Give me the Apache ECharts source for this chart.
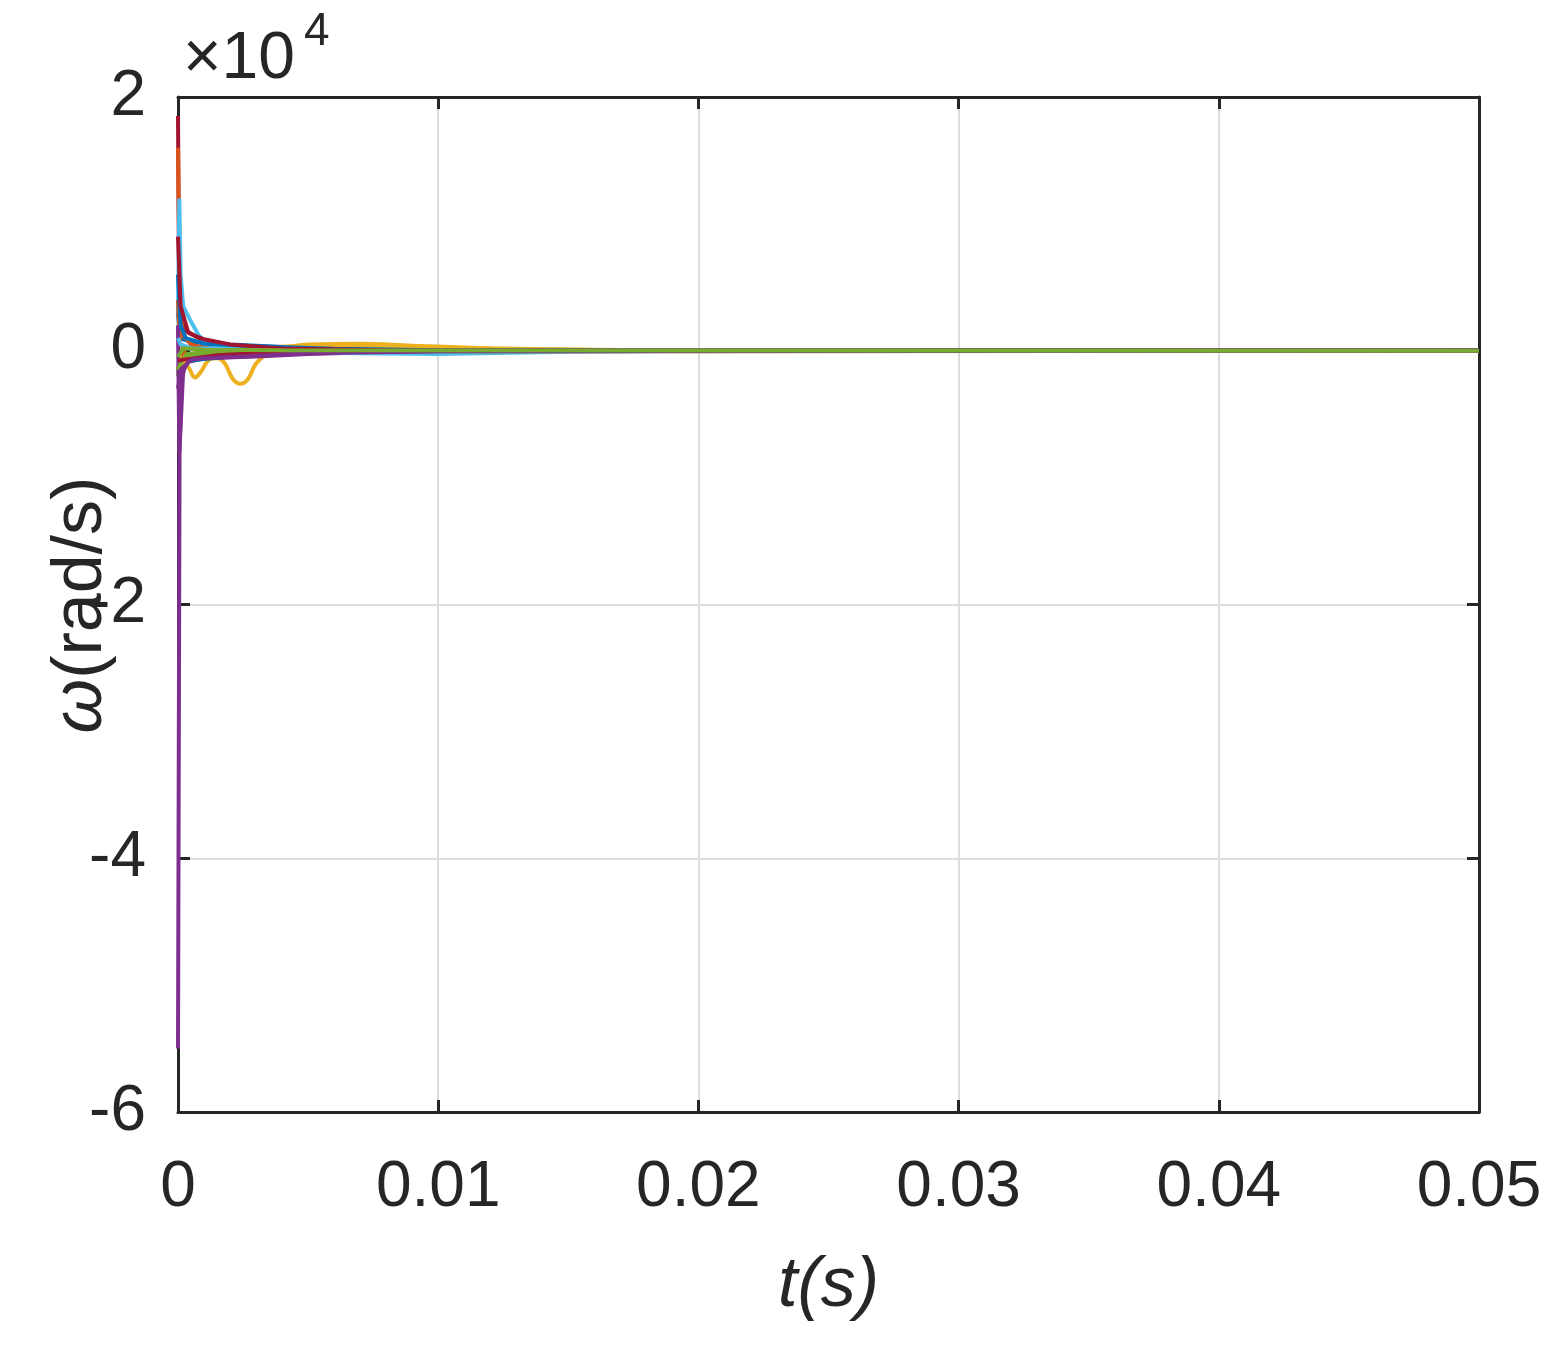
<!DOCTYPE html>
<html>
<head>
<meta charset="utf-8">
<script src="https://cdn.jsdelivr.net/npm/echarts@6/dist/echarts.min.js"></script>
<style>html,body{margin:0;padding:0;background:#fff}#c{width:1558px;height:1351px}</style>
</head>
<body>
<div id="c"></div>
<script>
// x tick values (s) and y tick values (rad/s)
const xTicks = [0, 0.01, 0.02, 0.03, 0.04, 0.05];
const yTicks = [-60000, -40000, -20000, 0, 20000];

// each series: [t (s), omega (rad/s)]
const sBlue1 = [[0,3000],[0.00005,1500],[0.0002,900],[0.0005,700],[0.001,650],[0.002,500],[0.004,300],[0.007,120],[0.012,30],[0.02,0],[0.05,0]];
const sOrange1 = [[0,16000],[0.00004,9000],[0.0001,3000],[0.0002,1200],[0.0005,500],[0.001,250],[0.003,100],[0.006,40],[0.01,0],[0.05,0]];
const sYellow1 = [[0,-1200],[0.0001,-2000],[0.0002,-1000],[0.0004,-1300],[0.00065,-2100],[0.0009,-1600],[0.0012,-700],[0.0015,-600],[0.0018,-1000],[0.0021,-2200],[0.0024,-2600],[0.0027,-2200],[0.003,-1000],[0.0034,-300],[0.004,200],[0.005,500],[0.007,550],[0.009,400],[0.012,200],[0.016,50],[0.02,0],[0.05,0]];
const sPurple1 = [[0,-55000],[0.00006,-8000],[0.00012,-2500],[0.0003,-900],[0.001,-600],[0.003,-450],[0.005,-250],[0.008,-80],[0.012,0],[0.05,0]];
const sGreen1 = [[0,-2000],[0.0001,500],[0.0003,-300],[0.001,-100],[0.003,0],[0.05,0]];
const sCyan1 = [[0,3000],[0.00005,12000],[0.0001,6000],[0.0002,3500],[0.0005,2300],[0.0008,1200],[0.0012,500],[0.002,200],[0.005,-150],[0.01,-250],[0.015,-80],[0.02,0],[0.05,0]];
const sRed1 = [[0,18500],[0.00004,6000],[0.0001,2500],[0.0003,1600],[0.0007,1100],[0.001,800],[0.002,350],[0.004,120],[0.007,40],[0.01,0],[0.05,0]];
const sBlue2 = [[0,-1000],[0.0003,-800],[0.001,-650],[0.002,-450],[0.003,-300],[0.005,-150],[0.008,-60],[0.012,0],[0.05,0]];
const sOrange2 = [[0,4000],[0.0001,-500],[0.0003,300],[0.001,150],[0.003,80],[0.008,30],[0.05,0]];
const sYellow2 = [[0,1500],[0.0001,-1500],[0.0003,-800],[0.0006,-600],[0.001,-300],[0.003,250],[0.006,450],[0.01,200],[0.02,0],[0.05,0]];
const sPurple2 = [[0,2000],[0.00005,-8000],[0.0001,-6000],[0.0002,-1500],[0.0005,-600],[0.001,-450],[0.002,-400],[0.004,-250],[0.006,-100],[0.01,0],[0.05,0]];
const sGreen2 = [[0,-1500],[0.0001,-1000],[0.0003,-400],[0.001,-200],[0.003,-50],[0.05,0]];
const sCyan2 = [[0,1000],[0.0001,500],[0.0005,200],[0.002,150],[0.005,100],[0.01,40],[0.05,0]];
const sRed2 = [[0,-800],[0.0002,-700],[0.0006,-600],[0.0015,-350],[0.003,-200],[0.006,-80],[0.01,-20],[0.05,0]];
const sBlue3 = [[0,6000],[0.0001,2000],[0.0003,1000],[0.001,550],[0.003,350],[0.006,150],[0.01,30],[0.05,0]];
const sRed3 = [[0,9000],[0.0001,3500],[0.0004,1400],[0.001,900],[0.002,500],[0.004,180],[0.008,40],[0.05,0]];
const sPurple3 = [[0,-3000],[0.0001,-1500],[0.0005,-700],[0.001,-600],[0.0025,-450],[0.005,-200],[0.01,-30],[0.05,0]];
const sGreen3 = [[0,-500],[0.0002,200],[0.001,80],[0.004,30],[0.05,0]];

const seriesList = [
  ['#A2142F', sRed1], ['#0072BD', sBlue1], ['#D95319', sOrange1], ['#EDB120', sYellow1], ['#7E2F8E', sPurple1],
  ['#77AC30', sGreen1], ['#4DBEEE', sCyan1],
  ['#0072BD', sBlue2], ['#D95319', sOrange2], ['#EDB120', sYellow2], ['#7E2F8E', sPurple2],
  ['#77AC30', sGreen2], ['#4DBEEE', sCyan2], ['#A2142F', sRed2],
  ['#0072BD', sBlue3], ['#A2142F', sRed3], ['#7E2F8E', sPurple3], ['#77AC30', sGreen3]
];

const FONT = 'Liberation Sans, Arial, Helvetica, sans-serif';
const TXT = '#262626';
const chart = echarts.init(document.getElementById('c'), null, {renderer: 'canvas'});

const mainX = {
  type: 'value', min: xTicks[0], max: xTicks[xTicks.length-1], interval: 0.01, position: 'bottom',
  axisLine: {show: true, onZero: false, lineStyle: {color: TXT, width: 3}},
  axisTick: {show: true, inside: true, length: 12, lineStyle: {color: TXT, width: 3}},
  axisLabel: {color: TXT, fontSize: 64, fontFamily: FONT, margin: 44,
    formatter: v => v === 0 ? '0' : v.toFixed(2)},
  splitLine: {show: true, lineStyle: {color: '#dcdcdc', width: 2}},
  name: 't(s)', nameLocation: 'middle', nameGap: 140,
  nameTextStyle: {color: TXT, fontSize: 70, fontFamily: FONT, fontStyle: 'italic'}
};
const topX = {
  type: 'value', min: 0, max: 0.05, interval: 0.01, position: 'top',
  axisLine: {show: true, onZero: false, lineStyle: {color: TXT, width: 3}},
  axisTick: {show: true, inside: true, length: 12, lineStyle: {color: TXT, width: 3}},
  axisLabel: {show: false}, splitLine: {show: false}
};
const mainY = {
  type: 'value', min: yTicks[0], max: yTicks[yTicks.length-1], interval: 20000, position: 'left',
  axisLine: {show: true, onZero: false, lineStyle: {color: TXT, width: 3}},
  axisTick: {show: true, inside: true, length: 12, lineStyle: {color: TXT, width: 3}},
  axisLabel: {color: TXT, fontSize: 64, fontFamily: FONT, margin: 32,
    formatter: v => String(v / 10000)},
  splitLine: {show: true, lineStyle: {color: '#dcdcdc', width: 2}}
};
const rightY = {
  type: 'value', min: -60000, max: 20000, interval: 20000, position: 'right',
  axisLine: {show: true, onZero: false, lineStyle: {color: TXT, width: 3}},
  axisTick: {show: true, inside: true, length: 12, lineStyle: {color: TXT, width: 3}},
  axisLabel: {show: false}, splitLine: {show: false}
};

chart.setOption({
  animation: false,
  backgroundColor: '#fff',
  grid: {left: 178, right: 79, top: 97, bottom: 239, containLabel: false},
  xAxis: [mainX, topX],
  yAxis: [mainY, rightY],
  series: seriesList.map(([c, d], i) => ({
    type: 'line', xAxisIndex: 0, yAxisIndex: 0, data: d, showSymbol: false,
    smooth: d === sYellow1 ? 0.4 : false,
    lineStyle: {color: c, width: 4}, z: 3 + (i === seriesList.length - 1 ? 1 : 0)
  })),
  graphic: [
    {type: 'text', x: 82, y: 605, rotation: Math.PI / 2,
      style: {text: '{i|ω}(rad/s)', fill: TXT, font: '70px ' + FONT, align: 'center', verticalAlign: 'middle',
        rich: {i: {fontStyle: 'italic', fontSize: 70, fontFamily: FONT, fill: TXT}}}},
    {type: 'text', x: 183, y: 60,
      style: {text: '×10', fill: TXT, font: '66px ' + FONT, align: 'left', verticalAlign: 'middle'}},
    {type: 'text', x: 304, y: 32,
      style: {text: '4', fill: TXT, font: '46px ' + FONT, align: 'left', verticalAlign: 'middle'}}
  ]
});
</script>
</body>
</html>
